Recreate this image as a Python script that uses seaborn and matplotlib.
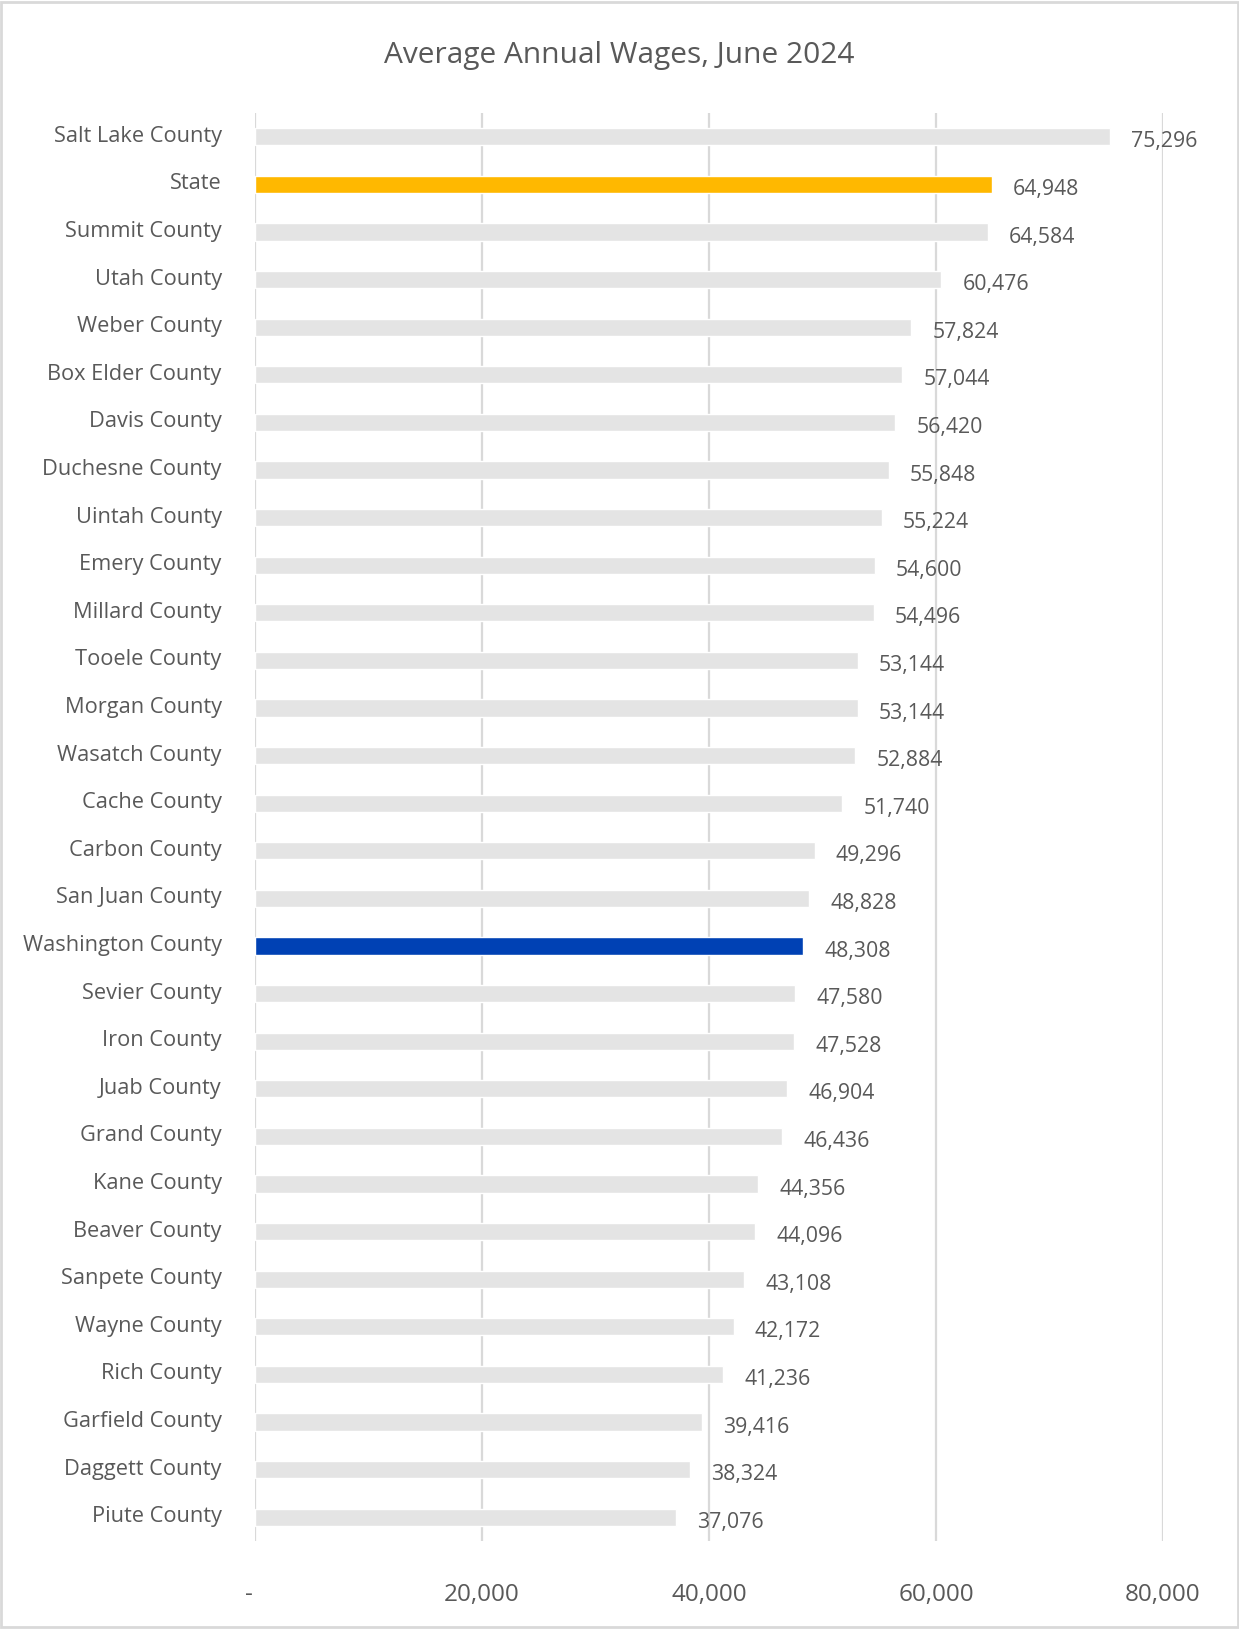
import matplotlib
matplotlib.use("Agg")
import matplotlib.pyplot as plt
from matplotlib.patches import Rectangle
from matplotlib.ticker import FixedLocator, FuncFormatter
from matplotlib.transforms import ScaledTranslation
import seaborn as sns
import pandas as pd

counties = [
    "Salt Lake County", "State", "Summit County", "Utah County", "Weber County",
    "Box Elder County", "Davis County", "Duchesne County", "Uintah County",
    "Emery County", "Millard County", "Tooele County", "Morgan County",
    "Wasatch County", "Cache County", "Carbon County", "San Juan County",
    "Washington County", "Sevier County", "Iron County", "Juab County",
    "Grand County", "Kane County", "Beaver County", "Sanpete County",
    "Wayne County", "Rich County", "Garfield County", "Daggett County",
    "Piute County",
]
wages = [
    75296, 64948, 64584, 60476, 57824, 57044, 56420, 55848, 55224, 54600,
    54496, 53144, 53144, 52884, 51740, 49296, 48828, 48308, 47580, 47528,
    46904, 46436, 44356, 44096, 43108, 42172, 41236, 39416, 38324, 37076,
]
x_ticks = [0, 20000, 40000, 60000, 80000]

GRAY = "#E4E4E4"
GOLD = "#FFB800"
BLUE = "#0041B4"
TEXT = "#595959"
GRID = "#D9D9D9"

highlight = {"State": GOLD, "Washington County": BLUE}
palette = {c: highlight.get(c, GRAY) for c in counties}

df = pd.DataFrame({"county": counties, "wage": wages})

sns.set_theme(style="white")
plt.rcParams["font.family"] = ["Open Sans", "DejaVu Sans"]

W, H = 1239, 1629
fig = plt.figure(figsize=(W / 100, H / 100), dpi=100)
ax = fig.add_axes([255 / W, 1 - 1541 / H, (1163 - 255) / W, (1541 - 113) / H])

sns.barplot(
    data=df, y="county", x="wage", hue="county", palette=palette,
    order=counties, hue_order=counties, orient="h", width=0.36,
    legend=False, ax=ax, saturation=1,
)

ax.set_xlim(0, 80000)
ax.set_ylim(len(counties) - 0.5, -0.5)
ax.xaxis.set_major_locator(FixedLocator(x_ticks))
ax.xaxis.set_major_formatter(FuncFormatter(lambda v, p: "-" if v == 0 else f"{int(v):,}"))
ax.grid(axis="x", color=GRID, linewidth=1.6)
ax.set_axisbelow(True)
for s in ax.spines.values():
    s.set_visible(False)
ax.set_xlabel("")
ax.set_ylabel("")
ax.tick_params(axis="x", length=0, pad=30, labelsize=17.5, labelcolor=TEXT)
ax.tick_params(axis="y", length=0, pad=24, labelsize=15.7, labelcolor=TEXT)

# category labels sit a touch above the bar centres
up = ScaledTranslation(0, 3 / 100, fig.dpi_scale_trans)
for lbl in ax.get_yticklabels():
    lbl.set_transform(lbl.get_transform() + up)
# the zero label ("-") hangs slightly left of its gridline
left = ScaledTranslation(-6 / 100, 0, fig.dpi_scale_trans)
zero_lbl = ax.get_xticklabels()[0]
zero_lbl.set_transform(zero_lbl.get_transform() + left)

# value labels just past each bar end
for patch, val in zip(ax.patches, wages):
    x_end = patch.get_x() + patch.get_width()
    y_mid = patch.get_y() + patch.get_height() / 2
    ax.annotate(f"{val:,}", xy=(x_end, y_mid), xytext=(21, -5),
                textcoords="offset pixels", ha="left", va="center",
                fontsize=15.3, color=TEXT)

fig.text(0.5, 1 - 55 / H, "Average Annual Wages, June 2024", ha="center",
         va="center", fontsize=21.5, color=TEXT)

fig.patches.append(Rectangle((0.001, 0.001), 0.998, 0.998, transform=fig.transFigure,
                             fill=False, edgecolor=GRID, linewidth=2))

fig.savefig("out.png", dpi=100, facecolor="white")
